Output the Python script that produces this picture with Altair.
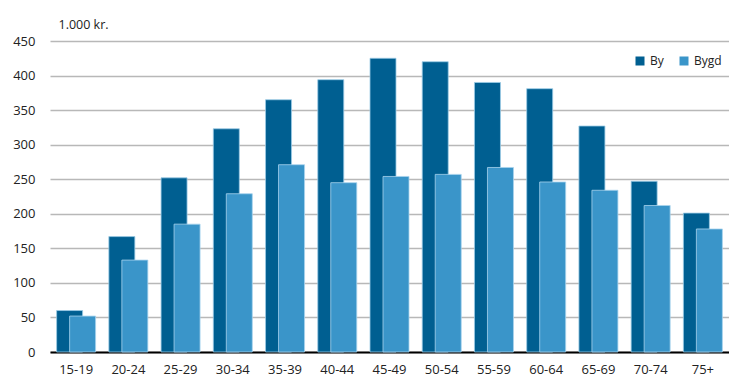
import altair as alt
import pandas as pd

groups = ["15-19", "20-24", "25-29", "30-34", "35-39", "40-44", "45-49",
          "50-54", "55-59", "60-64", "65-69", "70-74", "75+"]
by = [60, 167, 252, 323, 365, 394, 425, 420, 390, 381, 327, 247, 201]
bygd = [52, 133, 185, 229, 271, 245, 254, 257, 267, 246, 234, 212, 178]

df = pd.DataFrame({
    "group": groups * 2,
    "value": by + bygd,
    "series": ["By"] * len(groups) + ["Bygd"] * len(groups),
})

FONT = "Open Sans"
color = alt.Color("series:N",
                  scale=alt.Scale(domain=["By", "Bygd"], range=["#005F91", "#3A95C9"]),
                  legend=alt.Legend(title=None, orient="none", direction="horizontal",
                                    legendX=584, legendY=14, symbolType="square",
                                    symbolSize=81, symbolStrokeWidth=0,
                                    labelFontSize=12, labelFont=FONT, labelColor="#222222",
                                    columnPadding=14, labelOffset=4))

x = alt.X("group:N", sort=groups, title=None,
          scale=alt.Scale(paddingInner=0, paddingOuter=0),
          axis=alt.Axis(labelAngle=0, ticks=False, domainColor="#000000", domainWidth=2,
                        labelFontSize=13, labelFont=FONT, labelColor="#222222",
                        labelPadding=11, grid=False))
y = alt.Y("value:Q", title="1.000 kr.",
          scale=alt.Scale(domain=[0, 450], nice=False),
          axis=alt.Axis(values=list(range(0, 451, 50)), domain=False, ticks=False,
                        gridColor="#B8B8B8", gridWidth=1.5,
                        labelFontSize=13, labelFont=FONT, labelColor="#222222",
                        labelPadding=15,
                        titleAngle=0, titleX=8, titleY=-13, titleAlign="left",
                        titleBaseline="alphabetic", titleFontWeight="normal",
                        titleFontSize=12.5, titleFont=FONT, titleColor="#222222"))

base = alt.Chart(df)
l1 = base.transform_filter(alt.datum.series == "By").mark_bar(
    width=26, xOffset=-6.5, stroke="#9CCBE6", strokeWidth=0.8
).encode(x=x, y=y, color=color)
l2 = base.transform_filter(alt.datum.series == "Bygd").mark_bar(
    width=26, xOffset=6.5, stroke="#A8D3EE", strokeWidth=0.8
).encode(x=x, y=y, color=color)

chart = alt.layer(l1, l2).properties(
    width=679, height=311,
    autosize=alt.AutoSizeParams(type="none"),
    padding={"left": 42, "top": 33, "right": 0, "bottom": 30},
).configure_view(stroke=None)

chart.save("out.html", embed_options={"renderer": "svg", "actions": False})
